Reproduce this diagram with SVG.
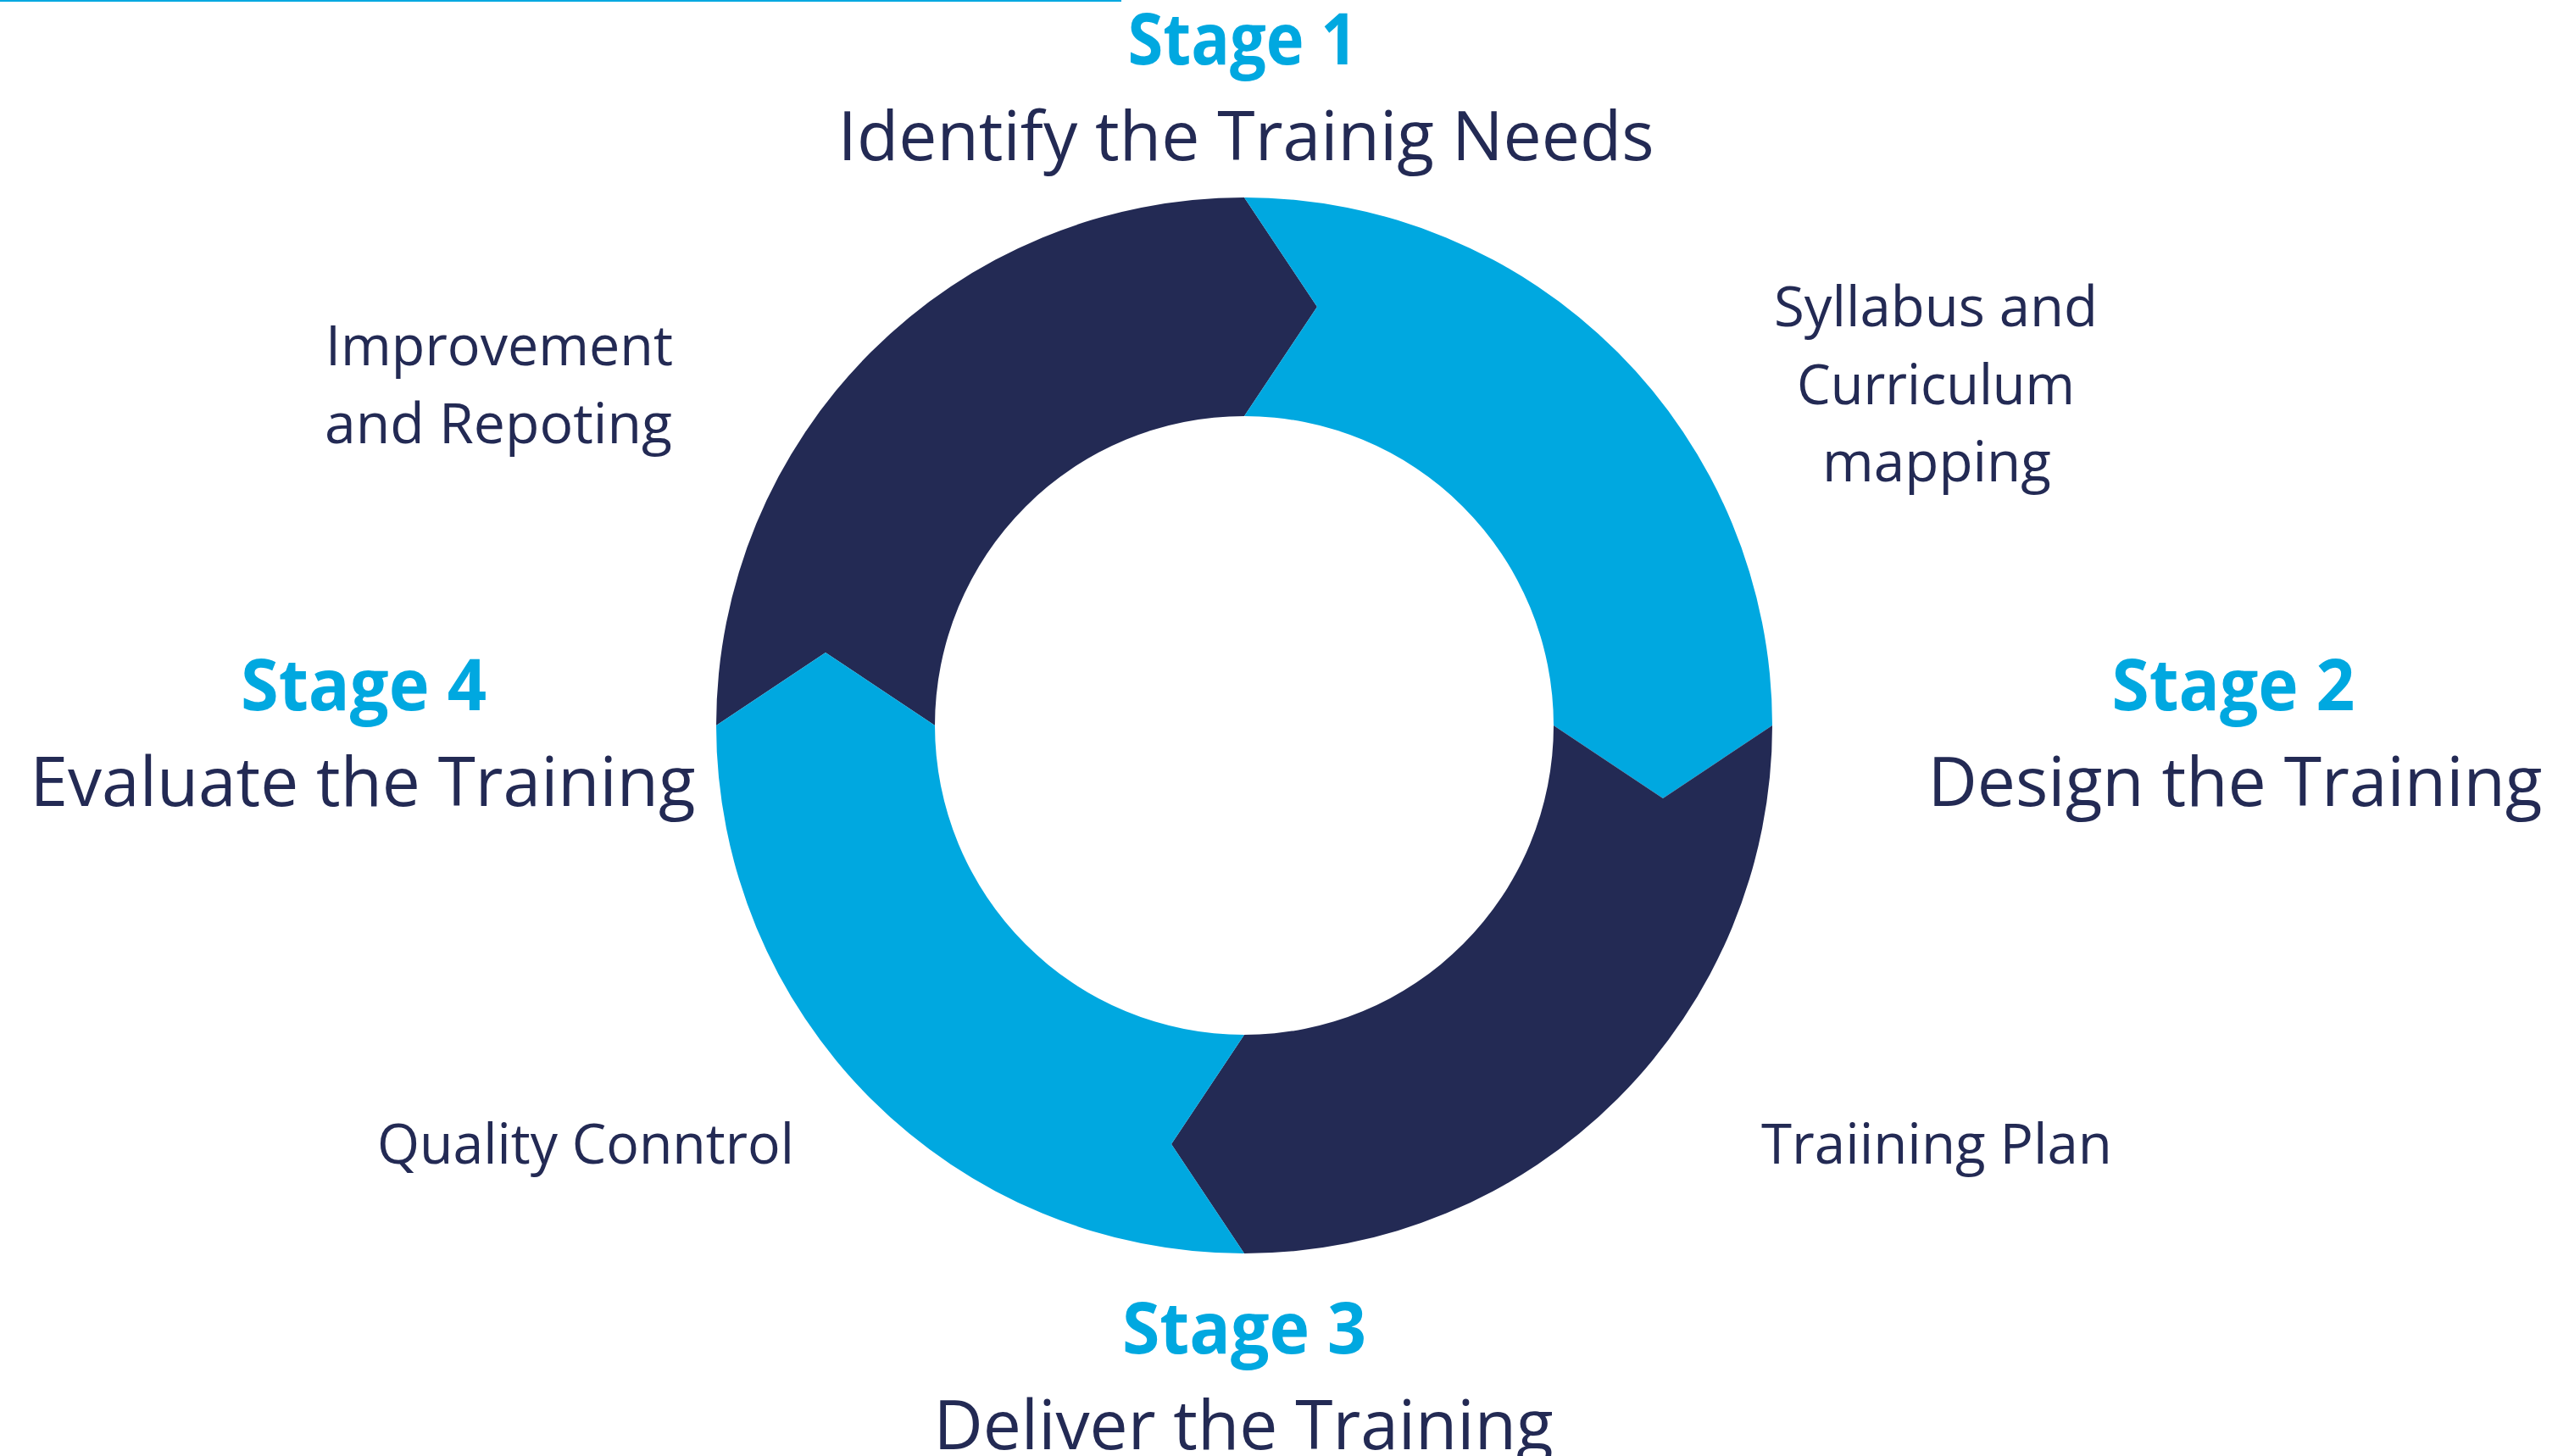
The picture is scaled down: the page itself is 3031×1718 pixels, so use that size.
<svg xmlns="http://www.w3.org/2000/svg" width="3031" height="1718" viewBox="0 0 3031 1718">
  <style>
    .cyan { fill: #00A8E0; }
    .navy { fill: #232A54; }
    .stage { font-family: "Open Sans", "Noto Sans", sans-serif; font-weight: 700; font-size: 84px; fill: #00A8E0; text-anchor: middle; }
    .title { font-family: "Open Sans", "Noto Sans", sans-serif; font-weight: 400; font-size: 80px; fill: #232A54; text-anchor: middle; }
    .sub { font-family: "Open Sans", "Noto Sans", sans-serif; font-weight: 400; font-size: 66px; fill: #232A54; text-anchor: middle; }
  </style>
  <rect x="0" y="0" width="1323" height="2" class="cyan"/>

  <g id="ring">
    <path id="seg-top-left" class="navy" d="M845,856 A623,623 0 0 1 1468,233 L1554,362 L1468,491 A365,365 0 0 0 1103,856 L974,770 Z"/>
    <path id="seg-top-right" class="cyan" d="M1468,233 A623,623 0 0 1 2091,856 L1962,942 L1833,856 A365,365 0 0 0 1468,491 L1554,362 Z"/>
    <path id="seg-bottom-right" class="navy" d="M2091,856 A623,623 0 0 1 1468,1479 L1382,1350 L1468,1221 A365,365 0 0 0 1833,856 L1962,942 Z"/>
    <path id="seg-bottom-left" class="cyan" d="M1468,1479 A623,623 0 0 1 845,856 L974,770 L1103,856 A365,365 0 0 0 1468,1221 L1382,1350 Z"/>
  </g>

  <g id="stage1">
    <text class="stage" x="1466" y="76" textLength="271" lengthAdjust="spacingAndGlyphs">Stage 1</text>
    <text class="title" x="1470" y="189" textLength="963" lengthAdjust="spacingAndGlyphs">Identify the Trainig Needs</text>
  </g>
  <g id="stage2">
    <text class="stage" x="2635" y="838" textLength="287" lengthAdjust="spacingAndGlyphs">Stage 2</text>
    <text class="title" x="2637" y="951" textLength="725" lengthAdjust="spacingAndGlyphs">Design the Training</text>
  </g>
  <g id="stage3">
    <text class="stage" x="1468" y="1597" textLength="288" lengthAdjust="spacingAndGlyphs">Stage 3</text>
    <text class="title" x="1467" y="1710" textLength="731" lengthAdjust="spacingAndGlyphs">Deliver the Training</text>
  </g>
  <g id="stage4">
    <text class="stage" x="429" y="838" textLength="290" lengthAdjust="spacingAndGlyphs">Stage 4</text>
    <text class="title" x="428" y="951" textLength="785" lengthAdjust="spacingAndGlyphs">Evaluate the Training</text>
  </g>

  <g id="note-syllabus">
    <text class="sub" x="2284" y="385" textLength="382" lengthAdjust="spacingAndGlyphs">Syllabus and</text>
    <text class="sub" x="2284" y="477" textLength="328" lengthAdjust="spacingAndGlyphs">Curriculum</text>
    <text class="sub" x="2285" y="568" textLength="270" lengthAdjust="spacingAndGlyphs">mapping</text>
  </g>
  <g id="note-training-plan">
    <text class="sub" x="2285" y="1373" textLength="414" lengthAdjust="spacingAndGlyphs">Traiining Plan</text>
  </g>
  <g id="note-quality">
    <text class="sub" x="691" y="1373" textLength="492" lengthAdjust="spacingAndGlyphs">Quality Conntrol</text>
  </g>
  <g id="note-improvement">
    <text class="sub" x="589" y="431" textLength="410" lengthAdjust="spacingAndGlyphs">Improvement</text>
    <text class="sub" x="588" y="523" textLength="410" lengthAdjust="spacingAndGlyphs">and Repoting</text>
  </g>
</svg>
